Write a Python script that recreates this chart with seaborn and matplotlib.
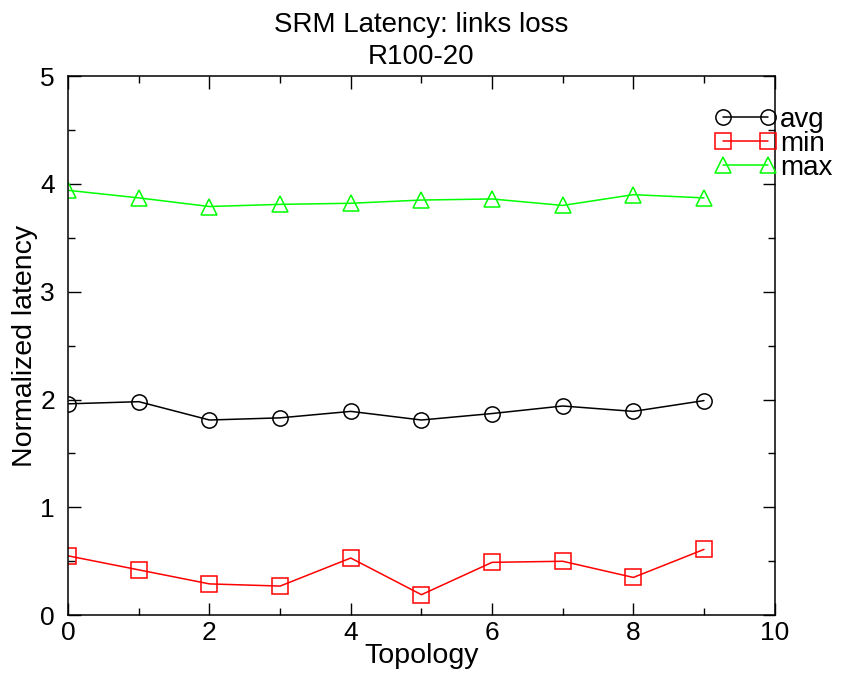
import matplotlib
matplotlib.use("Agg")
import matplotlib.pyplot as plt
import seaborn as sns
import pandas as pd
from matplotlib.ticker import MultipleLocator

topology = [0, 1, 2, 3, 4, 5, 6, 7, 8, 9]
avg_latency = [1.96, 1.98, 1.81, 1.83, 1.89, 1.81, 1.87, 1.94, 1.89, 1.99]
min_latency = [0.55, 0.42, 0.29, 0.27, 0.53, 0.19, 0.49, 0.50, 0.35, 0.61]
max_latency = [3.94, 3.87, 3.79, 3.81, 3.82, 3.85, 3.86, 3.80, 3.90, 3.87]

series = [
    ("avg", avg_latency, "black", "o"),
    ("min", min_latency, "red", "s"),
    ("max", max_latency, "#00ff00", "^"),
]

sns.set_style("white")
plt.rcParams["font.family"] = ["Liberation Sans", "DejaVu Sans"]
plt.rcParams["text.color"] = "black"
plt.rcParams["axes.labelcolor"] = "black"
plt.rcParams["xtick.color"] = "black"
plt.rcParams["ytick.color"] = "black"

fig = plt.figure(figsize=(8.42, 6.79), dpi=100)
ax = fig.add_axes([0.081, 0.094, 0.839, 0.794])

for name, values, color, marker in series:
    df = pd.DataFrame({"Topology": topology, "latency": values})
    sns.lineplot(data=df, x="Topology", y="latency", ax=ax, color=color,
                 marker=marker, markersize=11, markerfacecolor="none",
                 markeredgecolor=color, markeredgewidth=1.1, linewidth=1.1,
                 label=name)

ax.set_xlim(0, 10)
ax.set_ylim(0, 5)
ax.xaxis.set_major_locator(MultipleLocator(2))
ax.xaxis.set_minor_locator(MultipleLocator(1))
ax.yaxis.set_major_locator(MultipleLocator(1))
ax.yaxis.set_minor_locator(MultipleLocator(0.5))
ax.tick_params(which="both", direction="in", top=True, right=True,
               bottom=True, left=True, color="black", width=1)
ax.tick_params(which="major", length=9, labelsize=19)
ax.tick_params(axis="x", which="major", pad=4.5)
ax.tick_params(axis="y", which="major", pad=9.5)
ax.tick_params(which="minor", length=5)
for s in ax.spines.values():
    s.set_color("black")
    s.set_linewidth(1.1)

ax.set_xlabel("Topology", fontsize=20.5)
ax.set_ylabel("Normalized latency", fontsize=20.5)
ax.xaxis.set_label_coords(0.5, -0.051)
ax.yaxis.set_label_coords(-0.043, 0.5)
ax.set_title("SRM Latency: links loss\nR100-20", fontsize=20, pad=8.5,
             linespacing=1.3)

leg = ax.legend(loc="upper left", bbox_to_anchor=(0.915, 0.943), frameon=False,
                numpoints=2, handlelength=2.23, handletextpad=0.13,
                labelspacing=-0.07, fontsize=20, borderaxespad=0, borderpad=0)

fig.savefig("out.png", dpi=100)
